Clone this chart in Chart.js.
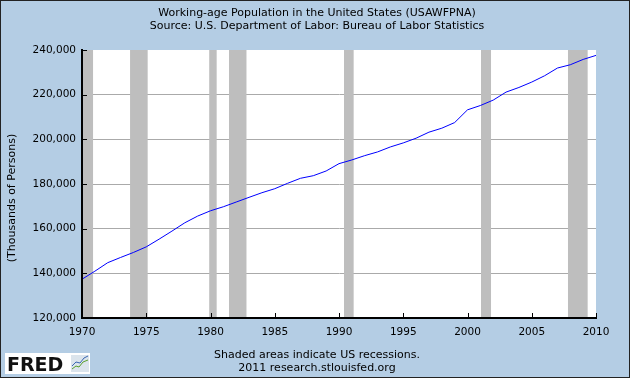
<!DOCTYPE html>
<html>
<head>
<meta charset="utf-8">
<script src="https://cdn.jsdelivr.net/npm/chart.js@4.4.1/dist/chart.umd.min.js"></script>
<style>
  html, body { margin: 0; padding: 0; background: #b4cde4; }
</style>
</head>
<body>
<canvas id="myChart" width="630" height="378"></canvas>
<script>
// Working-age population, thousands of persons (annual)
const years = [1970, 1971, 1972, 1973, 1974, 1975, 1976, 1977, 1978, 1979,
    1980, 1981, 1982, 1983, 1984, 1985, 1986, 1987, 1988, 1989,
    1990, 1991, 1992, 1993, 1994, 1995, 1996, 1997, 1998, 1999,
    2000, 2001, 2002, 2003, 2004, 2005, 2006, 2007, 2008, 2009, 2010];
const population = [137360, 140950, 144760, 147100, 149340, 151860, 155310, 158900, 162630, 165630,
    168010, 169810, 171920, 174030, 176090, 177890, 180310, 182550, 183720, 185830,
    189110, 190770, 192700, 194360, 196600, 198400, 200510, 203200, 204990, 207510,
    213210, 215140, 217560, 221150, 223220, 225640, 228470, 231920, 233400, 235780, 237580];

// recessions (decimal years)
const recessionStart = [1969.92, 1973.74, 1979.9, 1981.44, 1990.39, 2001.05, 2007.82];
const recessionEnd = [1970.86, 1975.11, 1980.48, 1982.8, 1991.14, 2001.83, 2009.35];

const xTicks = { min: 1970, max: 2010, step: 5 };
const yTicks = { min: 120000, max: 240000, step: 20000 };

const titleLines = ['Working-age Population in the United States (USAWFPNA)',
    'Source: U.S. Department of Labor: Bureau of Labor Statistics'];
const yTitle = '(Thousands of Persons)';
const footerLines = ['Shaded areas indicate US recessions.', '2011 research.stlouisfed.org'];

const font = 'DejaVu Sans';

const fredFrame = {
    id: 'fredFrame',
    beforeDraw(chart) {
        const { ctx, chartArea: a } = chart;
        ctx.save();
        ctx.fillStyle = '#b4cde4';
        ctx.fillRect(0, 0, chart.width, chart.height);
        ctx.fillStyle = '#ffffff';
        ctx.fillRect(a.left, a.top, a.right - a.left, a.bottom - a.top);
        ctx.restore();
    },
    beforeDatasetsDraw(chart) {
        // shaded recessions
        const { ctx, chartArea: a, scales: { x } } = chart;
        ctx.save();
        ctx.fillStyle = '#bebebe';
        recessionStart.forEach((s, i) => {
            const x0 = Math.max(x.getPixelForValue(s), a.left);
            const x1 = Math.min(x.getPixelForValue(recessionEnd[i]), a.right);
            ctx.fillRect(x0, a.top, x1 - x0, a.bottom - a.top);
        });
        ctx.restore();
    },
    afterDraw(chart) {
        const { ctx, chartArea: a, scales: { x, y } } = chart;
        ctx.save();

        // inner tick marks
        ctx.strokeStyle = '#000';
        ctx.lineWidth = 1;
        ctx.beginPath();
        y.ticks.forEach(t => {
            const py = Math.round(y.getPixelForValue(t.value)) + 0.5;
            ctx.moveTo(a.left, py);
            ctx.lineTo(a.left + 5, py);
        });
        x.ticks.forEach(t => {
            const px = Math.round(x.getPixelForValue(t.value)) + 0.5;
            ctx.moveTo(px, a.bottom);
            ctx.lineTo(px, a.bottom - 5);
        });
        ctx.stroke();

        // titles
        ctx.fillStyle = '#000';
        ctx.font = '11px "' + font + '"';
        ctx.textAlign = 'center';
        ctx.textBaseline = 'middle';
        ctx.fillText(titleLines[0], 317, 13);
        ctx.fillText(titleLines[1], 317, 26);
        ctx.fillText(footerLines[0], 317, 355);
        ctx.fillText(footerLines[1], 317, 368);

        ctx.save();
        ctx.translate(12.5, 198);
        ctx.rotate(-Math.PI / 2);
        ctx.fillText(yTitle, 0, 0);
        ctx.restore();

        // FRED logo
        ctx.fillStyle = '#fff';
        ctx.fillRect(5, 353, 85, 21);
        ctx.fillStyle = '#111';
        ctx.font = 'bold 19px "' + font + '"';
        ctx.textAlign = 'left';
        ctx.textBaseline = 'alphabetic';
        ctx.fillText('FRED', 7, 371);
        ctx.fillStyle = '#dbe4ec';
        ctx.fillRect(71, 355, 18, 17);
        ctx.lineWidth = 1;
        ctx.strokeStyle = '#5aa02c';
        ctx.beginPath();
        ctx.moveTo(72, 369); ctx.lineTo(76, 366); ctx.lineTo(79, 367); ctx.lineTo(83, 362); ctx.lineTo(88, 360);
        ctx.stroke();
        ctx.strokeStyle = '#3a66b0';
        ctx.beginPath();
        ctx.moveTo(72, 366); ctx.lineTo(76, 362); ctx.lineTo(80, 363); ctx.lineTo(84, 358); ctx.lineTo(88, 356);
        ctx.stroke();

        // outer frame
        ctx.strokeStyle = '#222';
        ctx.strokeRect(0.5, 0.5, chart.width - 1, chart.height - 1);
        ctx.restore();
    }
};

const ctx = document.getElementById('myChart').getContext('2d');
const myChart = new Chart(ctx, {
    type: 'line',
    data: {
        datasets: [{
            data: years.map((yr, i) => ({ x: yr, y: population[i] })),
            borderColor: '#0000ff',
            borderWidth: 1,
            pointRadius: 0,
            tension: 0,
            fill: false
        }]
    },
    options: {
        responsive: false,
        animation: false,
        layout: { padding: { left: 0, top: 50, right: 34, bottom: 0 } },
        plugins: {
            legend: { display: false },
            tooltip: { enabled: false },
            title: { display: false }
        },
        scales: {
            x: {
                type: 'linear',
                min: xTicks.min,
                max: xTicks.max,
                afterFit(scale) { scale.height = 60; },
                grid: { display: false, drawTicks: false },
                border: { display: true, color: '#000', width: 2, z: 1 },
                ticks: {
                    stepSize: xTicks.step,
                    padding: 8,
                    maxRotation: 0,
                    autoSkip: false,
                    color: '#000',
                    font: { family: font, size: 10.5 },
                    callback: v => String(v)
                }
            },
            y: {
                min: yTicks.min,
                max: yTicks.max,
                afterFit(scale) { scale.width = 82; },
                grid: {
                    drawTicks: false,
                    color: c => (c.tick && (c.tick.value === yTicks.min || c.tick.value === yTicks.max)) ? 'rgba(0,0,0,0)' : '#aaaaaa'
                },
                border: { display: true, color: '#000', width: 2, z: 1 },
                ticks: {
                    stepSize: yTicks.step,
                    padding: 6,
                    color: '#000',
                    font: { family: font, size: 10.5 },
                    callback: v => v.toLocaleString('en-US')
                }
            }
        }
    },
    plugins: [fredFrame]
});
</script>
</body>
</html>
